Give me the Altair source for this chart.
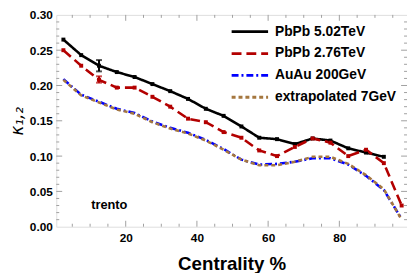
import altair as alt
import pandas as pd
import numpy as np

# ---- data ----
series_names = ["PbPb 5.02TeV", "PbPb 2.76TeV", "AuAu 200GeV", "extrapolated 7GeV"]
series_colors = ["#000000", "#b30000", "#0000ff", "#a5773f"]
series_dashes = [[1, 0], [10, 5], [7, 3, 2, 3], [4, 3]]

cent_black = [2.5, 7.5, 12.5, 17.5, 22.5, 27.5, 32.5, 37.5, 42.5, 47.5,
              52.5, 57.5, 62.5, 67.5, 72.5, 77.5, 82.5, 87.5, 92.5]
k_black = [0.265, 0.243, 0.228, 0.219, 0.212, 0.202, 0.192, 0.181, 0.167, 0.157,
           0.142, 0.126, 0.124, 0.117, 0.125, 0.122, 0.111, 0.105, 0.099]

cent_full = [2.5, 7.5, 12.5, 17.5, 22.5, 27.5, 32.5, 37.5, 42.5, 47.5,
             52.5, 57.5, 62.5, 67.5, 72.5, 77.5, 82.5, 87.5, 92.5, 97.5]
k_red = [0.250, 0.228, 0.208, 0.197, 0.197, 0.184, 0.170, 0.153, 0.148, 0.134,
         0.126, 0.108, 0.100, 0.113, 0.125, 0.119, 0.100, 0.109, 0.090, 0.030]
k_blue = [0.209, 0.187, 0.177, 0.167, 0.161, 0.149, 0.140, 0.133, 0.123, 0.110,
          0.095, 0.088, 0.089, 0.092, 0.097, 0.097, 0.088, 0.072, 0.052, 0.011]
k_brown = [0.208, 0.186, 0.176, 0.166, 0.160, 0.148, 0.139, 0.132, 0.122, 0.109,
           0.095, 0.087, 0.087, 0.092, 0.099, 0.099, 0.089, 0.073, 0.053, 0.010]

err_x = [12.5, 12.5]
err_lo = [0.220, 0.204]
err_hi = [0.236, 0.213]
err_series = ["PbPb 5.02TeV", "PbPb 2.76TeV"]

x_labels = [20, 40, 60, 80]
y_labels = [0.0, 0.05, 0.10, 0.15, 0.20, 0.25, 0.30]

# ---- layout ----
W, H = 356, 215
XDOM = [0.5, 99]
YDOM = [0, 0.30]
FONT = "Liberation Sans"
FRAME = "#a0a0a0"

rows = []
for name, xs_, ys_ in [(series_names[0], cent_black, k_black),
                       (series_names[1], cent_full, k_red),
                       (series_names[2], cent_full, k_blue),
                       (series_names[3], cent_full, k_brown)]:
    for x, y in zip(xs_, ys_):
        rows.append({"c": x, "k": y, "s": name})
df = pd.DataFrame(rows)

xs = alt.Scale(domain=XDOM, nice=False, zero=False)
ys = alt.Scale(domain=YDOM, nice=False)
col = alt.Color("s:N", scale=alt.Scale(domain=series_names, range=series_colors), legend=None)
dash = alt.StrokeDash("s:N", scale=alt.Scale(domain=series_names, range=series_dashes), legend=None)

XAXIS = alt.Axis(values=x_labels, title="Centrality %", domain=False, ticks=False,
                 grid=False, labelFont=FONT, labelFontWeight="bold", labelFontSize=12,
                 labelColor="black", labelPadding=6, titleFont=FONT,
                 titleFontWeight="bold", titleFontSize=19, titleColor="black",
                 titlePadding=11)
YAXIS = alt.Axis(values=y_labels, format=".2f", title="κ₁,₂", domain=False, ticks=False,
                 grid=False, labelOverlap=False, labelFont=FONT, labelFontWeight="bold",
                 labelFontSize=12, labelColor="black", labelPadding=4,
                 titleFont="DejaVu Sans", titleFontStyle="italic",
                 titleFontWeight="normal", titleFontSize=17,
                 titleColor="black", titlePadding=3)

def X(f):
    return alt.X(f, scale=xs, axis=XAXIS, title="Centrality %")

def Y(f):
    return alt.Y(f, scale=ys, axis=YAXIS, title="κ₁,₂")

lines = alt.Chart(df).mark_line(strokeWidth=2.6, clip=True).encode(
    x=X("c:Q"), y=Y("k:Q"), color=col, strokeDash=dash, detail="s:N")

markers = alt.Chart(df[df["s"].isin(series_names[:2])]).mark_square(size=16, opacity=1).encode(
    x=X("c:Q"), y=Y("k:Q"), color=col)

edf = pd.DataFrame({"c": err_x, "lo": err_lo, "hi": err_hi, "s": err_series})
ebar = alt.Chart(edf).mark_rule(strokeWidth=2).encode(
    x=X("c:Q"), y=Y("lo:Q"), y2="hi:Q", color=col)
ecap_lo = alt.Chart(edf).mark_tick(orient="horizontal", size=6, thickness=2).encode(
    x=X("c:Q"), y=Y("lo:Q"), color=col)
ecap_hi = alt.Chart(edf).mark_tick(orient="horizontal", size=6, thickness=2).encode(
    x=X("c:Q"), y=Y("hi:Q"), color=col)

# frame ticks (inward)
xmaj = pd.DataFrame({"v": [20, 40, 60, 80]})
xmin = pd.DataFrame({"v": [v for v in range(5, 100, 5) if v % 20 != 0]})
ymaj = pd.DataFrame({"v": [0.05, 0.10, 0.15, 0.20, 0.25]})
ymin = pd.DataFrame({"v": [round(i * 0.01, 2) for i in range(1, 30) if i % 5 != 0]})

def xticks(d, ln):
    b = alt.Chart(d).mark_rule(color=FRAME, strokeWidth=1)
    return (b.encode(x=X("v:Q"), y=alt.value(H), y2=alt.value(H - ln)) +
            b.encode(x=X("v:Q"), y=alt.value(0), y2=alt.value(ln)))

def yticks(d, ln):
    b = alt.Chart(d).mark_rule(color=FRAME, strokeWidth=1)
    return (b.encode(y=Y("v:Q"), x=alt.value(0), x2=alt.value(ln)) +
            b.encode(y=Y("v:Q"), x=alt.value(W), x2=alt.value(W - ln)))

ticks = xticks(xmaj, 6) + xticks(xmin, 3) + yticks(ymaj, 6) + yticks(ymin, 3)

# legend (drawn inside the plot, top right)
ldf = pd.DataFrame({"s": series_names, "ly": [17 + 22.2 * i for i in range(4)]})
leg_lines = alt.Chart(ldf).mark_rule(strokeWidth=2.8).encode(
    x=alt.value(178), x2=alt.value(215), y=alt.Y("ly:Q", scale=None, axis=None),
    color=col, strokeDash=dash)
leg_text = alt.Chart(ldf).mark_text(align="left", baseline="middle", font=FONT, fontWeight="bold",
                                    fontSize=14, color="black").encode(
    x=alt.value(222), y=alt.Y("ly:Q", scale=None, axis=None), text="s:N")

note = alt.Chart(pd.DataFrame({"c": [10.3], "k": [0.030], "t": ["trento"]})).mark_text(
    align="left", baseline="middle", font=FONT, fontWeight="bold", fontSize=13, color="black"
).encode(x=X("c:Q"), y=Y("k:Q"), text="t:N")

chart = alt.layer(lines, ticks, markers, ebar, ecap_lo, ecap_hi, leg_lines, leg_text, note).properties(
    width=W, height=H,
    autosize=alt.AutoSizeParams(type="none"),
    padding={"left": 49, "top": 5, "right": 0, "bottom": 45},
).configure_view(stroke=FRAME, strokeWidth=1).configure(background="white")

chart.save("out.html", embed_options={"renderer": "svg", "actions": False})
